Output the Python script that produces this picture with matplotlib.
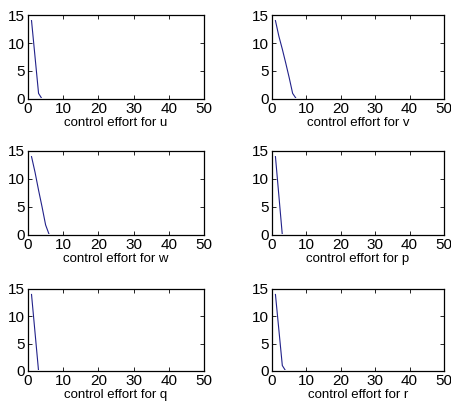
import matplotlib
matplotlib.use('Agg')
import matplotlib.pyplot as plt
from matplotlib.transforms import Bbox

# Данные: управляющие воздействия по шагам 1..50
steps = list(range(1, 51))
effort_u = [14, 7.5, 1, 0] + [0] * 46
effort_v = [14, 11.2, 8.9, 6.4, 3.8, 1, 0.1] + [0] * 43
effort_w = [14, 11.2, 8, 5, 1.8, 0.1] + [0] * 44
effort_p = [14, 7, 0] + [0] * 47
effort_q = [14, 7, 0] + [0] * 47
effort_r = [14, 7.5, 1, 0] + [0] * 46

labels = ['control effort for u', 'control effort for v',
          'control effort for w', 'control effort for p',
          'control effort for q', 'control effort for r']
series = [effort_u, effort_v, effort_w, effort_p, effort_q, effort_r]

plt.rcParams['font.family'] = ['Liberation Sans', 'DejaVu Sans']

W, H = 451, 408
fig = plt.figure(figsize=(W / 100, H / 100), dpi=100)

# Положения осей в пикселях (левый, правый, верх, низ)
cols = [(28, 204), (272, 444)]
rows = [(15, 99), (151, 235), (289, 371)]

for i, (vals, lab) in enumerate(zip(series, labels)):
    r, c = divmod(i, 2)
    x0, x1 = cols[c]
    y0, y1 = rows[r]
    ax = fig.add_axes([x0 / W, 1 - y1 / H, (x1 - x0) / W, (y1 - y0) / H])
    line, = ax.plot(steps, vals, color='#22228a', linewidth=0.8, zorder=1)
    # нулевой участок прячем под осью, как в MATLAB
    bb = ax.bbox
    line.set_clip_box(Bbox.from_extents(bb.x0, bb.y0 + 1.2, bb.x1, bb.y1))
    ax.set_xlim(0, 50)
    ax.set_ylim(0, 15)
    ax.set_xticks([0, 10, 20, 30, 40, 50])
    ax.set_yticks([0, 5, 10, 15])
    ax.tick_params(direction='in', top=True, right=True, length=3,
                   labelsize=11, pad=2, width=0.6)
    for s in ax.spines.values():
        s.set_linewidth(0.9)
        s.set_zorder(3)
    ax.set_xlabel(lab, fontsize=9.5, labelpad=1)

plt.savefig('out.png', dpi=100)
